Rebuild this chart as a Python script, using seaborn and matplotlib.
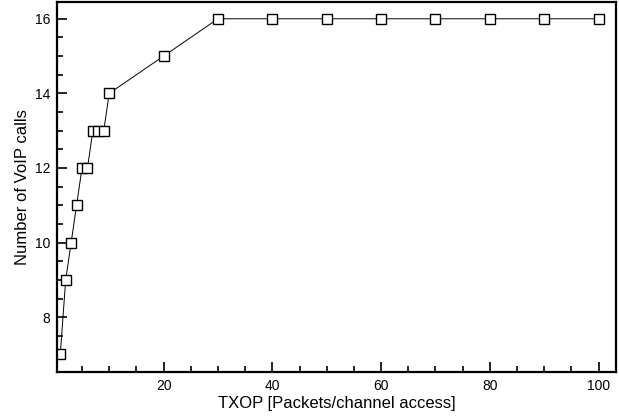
import matplotlib
matplotlib.use("Agg")
import matplotlib.pyplot as plt
import seaborn as sns
import pandas as pd
from matplotlib.ticker import MultipleLocator

txop = [1, 2, 3, 4, 5, 6, 7, 8, 9, 10, 20, 30, 40, 50, 60, 70, 80, 90, 100]
calls = [7, 9, 10, 11, 12, 12, 13, 13, 13, 14, 15, 16, 16, 16, 16, 16, 16, 16, 16]

sns.set_style("ticks")
plt.rcParams['font.family'] = ['Liberation Sans', 'DejaVu Sans']
plt.rcParams['text.color'] = 'black'
plt.rcParams['axes.labelcolor'] = 'black'

df = pd.DataFrame({"txop": txop, "calls": calls})

fig = plt.figure(figsize=(6.19, 4.19), dpi=100)
ax = fig.add_axes([57/619, 1 - 372/419, (616-57)/619, (372-2)/419])
sns.lineplot(data=df, x="txop", y="calls", ax=ax, color="black", linewidth=0.7,
             marker="s", markersize=7, markerfacecolor="white", markeredgecolor="black",
             markeredgewidth=1.0)

ax.set_xlim(0.4, 103.2)
ax.set_ylim(6.53, 16.45)
ax.xaxis.set_major_locator(MultipleLocator(20))
ax.xaxis.set_minor_locator(MultipleLocator(5))
ax.yaxis.set_major_locator(MultipleLocator(2))
ax.yaxis.set_minor_locator(MultipleLocator(0.5))
ax.tick_params(which="both", direction="in", top=False, right=False, labelsize=10, width=1.2,
               colors="black", labelcolor="black")
ax.tick_params(which="major", length=7, pad=5)
ax.tick_params(which="minor", length=4)
for s in ax.spines.values():
    s.set_linewidth(1.6)
    s.set_color("black")
ax.set_xlabel("TXOP [Packets/channel access]", fontsize=12, labelpad=2)
ax.set_ylabel("Number of VoIP calls", fontsize=12, labelpad=3)

fig.savefig("out.png", dpi=100)
